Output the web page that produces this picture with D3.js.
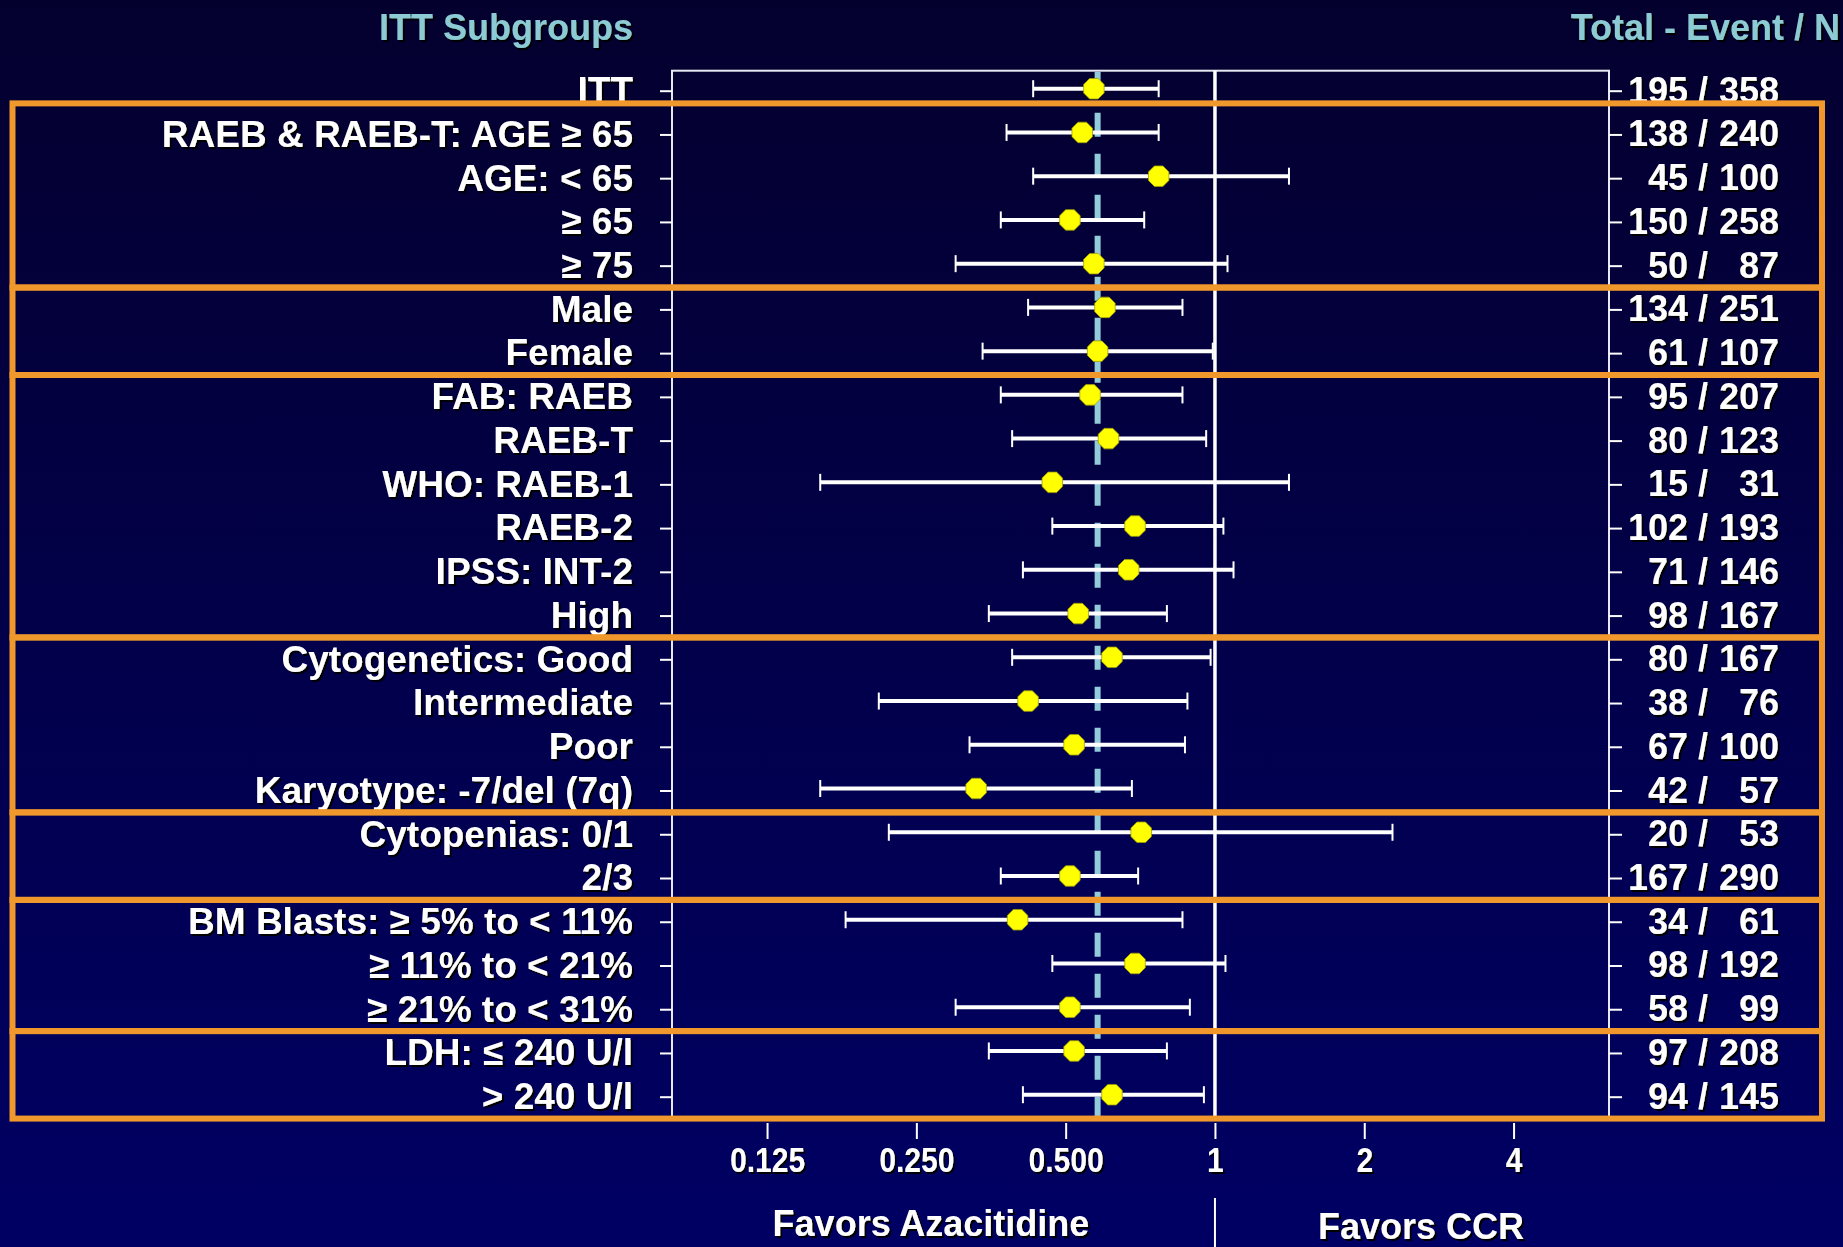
<!DOCTYPE html>
<html>
<head>
<meta charset="utf-8">
<script src="https://cdn.jsdelivr.net/npm/d3@7"></script>
<style>
  html, body { margin: 0; padding: 0; background: #020038; }
  svg { display: block; }
  text { font-family: "Liberation Sans", Arial, "DejaVu Sans", sans-serif; font-weight: bold; }
</style>
</head>
<body>
<svg id="chart" width="1843" height="1247"></svg>
<script>
// Subgroup labels, top to bottom
const rowLabels = [
  "ITT",
  "RAEB & RAEB-T: AGE \u2265 65",
  "AGE: < 65",
  "\u2265 65",
  "\u2265 75",
  "Male",
  "Female",
  "FAB: RAEB",
  "RAEB-T",
  "WHO: RAEB-1",
  "RAEB-2",
  "IPSS: INT-2",
  "High",
  "Cytogenetics: Good",
  "Intermediate",
  "Poor",
  "Karyotype: -7/del (7q)",
  "Cytopenias: 0/1",
  "2/3",
  "BM Blasts: \u2265 5% to < 11%",
  "\u2265 11% to < 21%",
  "\u2265 21% to < 31%",
  "LDH: \u2264 240 U/l",
  "> 240 U/l"
];

// Hazard ratios with 95% confidence limits
const hazardRatio = [0.57, 0.54, 0.77, 0.51, 0.57, 0.60, 0.58, 0.56, 0.61, 0.47, 0.69, 0.67,
                     0.53, 0.62, 0.42, 0.52, 0.33, 0.71, 0.51, 0.40, 0.69, 0.51, 0.52, 0.62];
const ciLower     = [0.43, 0.38, 0.43, 0.37, 0.30, 0.42, 0.34, 0.37, 0.39, 0.16, 0.47, 0.41,
                     0.35, 0.39, 0.21, 0.32, 0.16, 0.22, 0.37, 0.18, 0.47, 0.30, 0.35, 0.41];
const ciUpper     = [0.77, 0.77, 1.41, 0.72, 1.06, 0.86, 0.99, 0.86, 0.96, 1.41, 1.04, 1.09,
                     0.80, 0.98, 0.88, 0.87, 0.68, 2.28, 0.70, 0.86, 1.05, 0.89, 0.80, 0.95];

// Total events / patients per subgroup
const events = [195, 138, 45, 150, 50, 134, 61, 95, 80, 15, 102, 71,
                98, 80, 38, 67, 42, 20, 167, 34, 98, 58, 97, 94];
const totals = [358, 240, 100, 258, 87, 251, 107, 207, 123, 31, 193, 146,
                167, 167, 76, 100, 57, 53, 290, 61, 192, 99, 208, 145];

// Subgroup blocks (first and last row index)
const groupFirst = [1, 5, 7, 13, 17, 19, 22];
const groupLast  = [4, 6, 12, 16, 18, 21, 23];

// Overall hazard ratio reference line
const overallHR = 0.58;

// Log-2 axis ticks
const xTickValues = [0.125, 0.25, 0.5, 1, 2, 4];
const xTickLabels = ["0.125", "0.250", "0.500", "1", "2", "4"];

const W = 1843, H = 1247;
const svg = d3.select("#chart");
const defs = svg.append("defs");

const bg = defs.append("linearGradient").attr("id", "bg")
  .attr("x1", 0).attr("y1", 0).attr("x2", 0).attr("y2", 1);
bg.append("stop").attr("offset", "0%").attr("stop-color", "#04002e");
bg.append("stop").attr("offset", "100%").attr("stop-color", "#000064");

const shadow = defs.append("filter").attr("id", "shadow")
  .attr("x", "-5%").attr("y", "-20%").attr("width", "115%").attr("height", "150%");
shadow.append("feDropShadow").attr("dx", 2).attr("dy", 2)
  .attr("stdDeviation", 0.3).attr("flood-color", "#000").attr("flood-opacity", 1);

svg.append("rect").attr("width", W).attr("height", H).attr("fill", "url(#bg)");

// Plot area
const plotLeft = 672, plotRight = 1609, plotTop = 70.7, plotBottom = 1118;
const x = d3.scaleLog().base(2).domain([0.0804, 6.23]).range([plotLeft, plotRight]);
const y = d3.scalePoint().domain(d3.range(rowLabels.length)).range([90.7, 1096.7]);
const step = y.step();

// Headers
svg.append("text").attr("x", 633).attr("y", 40).attr("text-anchor", "end")
  .attr("font-size", 36).attr("fill", "#8ccbd3").attr("filter", "url(#shadow)")
  .text("ITT Subgroups");
svg.append("text").attr("x", 1840).attr("y", 40).attr("text-anchor", "end")
  .attr("font-size", 36).attr("fill", "#8ccbd3").attr("filter", "url(#shadow)")
  .text("Total - Event / N");

// Plot frame
svg.append("rect").attr("x", plotLeft).attr("y", plotTop)
  .attr("width", plotRight - plotLeft).attr("height", plotBottom - plotTop)
  .attr("fill", "none").attr("stroke", "#e8e8f2").attr("stroke-width", 2);

// No-effect line at HR = 1
svg.append("line").attr("x1", x(1)).attr("x2", x(1)).attr("y1", plotTop).attr("y2", plotBottom)
  .attr("stroke", "#ffffff").attr("stroke-width", 3.5);

// Overall HR reference (dashed)
svg.append("line").attr("x1", x(overallHR)).attr("x2", x(overallHR))
  .attr("y1", plotTop + 1).attr("y2", plotBottom)
  .attr("stroke", "#92cbd9").attr("stroke-width", 6)
  .attr("stroke-dasharray", "24,17");

// Left axis with subgroup labels
const leftAxis = svg.append("g").attr("transform", `translate(${plotLeft},0)`)
  .call(d3.axisLeft(y).tickSize(12).tickSizeOuter(0).tickPadding(27)
    .tickFormat(i => rowLabels[i]));
leftAxis.select(".domain").remove();
leftAxis.selectAll("line").attr("stroke", "#ffffff").attr("stroke-width", 2);
leftAxis.selectAll("text").attr("fill", "#ffffff").attr("font-size", 37)
  .attr("dy", "0.32em").attr("filter", "url(#shadow)");
leftAxis.attr("font-family", null);

// Right axis with event counts
const rightAxis = svg.append("g").attr("transform", `translate(${plotRight},0)`)
  .call(d3.axisRight(y).tickSize(13).tickSizeOuter(0).tickFormat(""));
rightAxis.select(".domain").remove();
rightAxis.selectAll("line").attr("stroke", "#ffffff").attr("stroke-width", 2);

const counts = svg.append("g").attr("font-size", 36).attr("fill", "#ffffff")
  .attr("filter", "url(#shadow)");
const countRows = counts.selectAll("g").data(d3.range(rowLabels.length)).join("g")
  .attr("transform", i => `translate(0,${y(i) + 12})`);
countRows.append("text").attr("x", 1688).attr("text-anchor", "end").text(i => events[i]);
countRows.append("text").attr("x", 1703).attr("text-anchor", "middle").text("/");
countRows.append("text").attr("x", 1779).attr("text-anchor", "end").text(i => totals[i]);

// Confidence intervals
const ci = svg.append("g").attr("stroke", "#ffffff");
const ciRows = ci.selectAll("g").data(d3.range(rowLabels.length)).join("g");
ciRows.append("line")
  .attr("x1", i => x(ciLower[i])).attr("x2", i => x(ciUpper[i]))
  .attr("y1", i => y(i) - 2).attr("y2", i => y(i) - 2)
  .attr("stroke-width", 4);
ciRows.append("line")
  .attr("x1", i => x(ciLower[i])).attr("x2", i => x(ciLower[i]))
  .attr("y1", i => y(i) - 10.5).attr("y2", i => y(i) + 6.5)
  .attr("stroke-width", 2);
ciRows.append("line")
  .attr("x1", i => x(ciUpper[i])).attr("x2", i => x(ciUpper[i]))
  .attr("y1", i => y(i) - 10.5).attr("y2", i => y(i) + 6.5)
  .attr("stroke-width", 2);

// Point estimates as octagons
const r = 11.1;
const octagon = d3.range(8).map(k => {
  const a = Math.PI / 8 + k * Math.PI / 4;
  return [r * Math.cos(a), r * Math.sin(a)];
});
const octPath = "M" + octagon.map(p => p.join(",")).join("L") + "Z";
svg.append("g").selectAll("path").data(d3.range(rowLabels.length)).join("path")
  .attr("d", octPath)
  .attr("transform", i => `translate(${x(hazardRatio[i])},${y(i) - 2})`)
  .attr("fill", "#ffff00").attr("stroke", "#a0a000").attr("stroke-width", 0.8);

// Subgroup blocks
const blockTop = g => y(groupFirst[g]) - step * (g === 0 ? 0.71 : 0.5);
const blockBottom = g => y(groupLast[g]) + step * 0.5;
svg.append("g").selectAll("rect").data(d3.range(groupFirst.length)).join("rect")
  .attr("x", 12.5)
  .attr("y", g => blockTop(g))
  .attr("width", 1822 - 12.5)
  .attr("height", g => blockBottom(g) - blockTop(g))
  .attr("fill", "none").attr("stroke", "#f0982c").attr("stroke-width", 6);

// Bottom log axis
const bottomAxis = svg.append("g").attr("transform", "translate(0,1123)")
  .call(d3.axisBottom(x).tickValues(xTickValues).tickSize(16).tickSizeOuter(0).tickPadding(8)
    .tickFormat((d, i) => xTickLabels[i]));
bottomAxis.select(".domain").remove();
bottomAxis.attr("font-family", null);
bottomAxis.selectAll("line").attr("stroke", "#ffffff").attr("stroke-width", 2);
bottomAxis.selectAll("text").attr("fill", "#ffffff").attr("font-size", 35)
  .attr("filter", "url(#shadow)")
  .attr("transform", "scale(0.86,1)");

// Direction captions
svg.append("line").attr("x1", x(1)).attr("x2", x(1)).attr("y1", 1198).attr("y2", H)
  .attr("stroke", "#ffffff").attr("stroke-width", 2);
svg.append("text").attr("x", 931).attr("y", 1236).attr("text-anchor", "middle")
  .attr("font-size", 36).attr("fill", "#ffffff").attr("filter", "url(#shadow)")
  .text("Favors Azacitidine");
svg.append("text").attr("x", 1421).attr("y", 1239).attr("text-anchor", "middle")
  .attr("font-size", 36).attr("fill", "#ffffff").attr("filter", "url(#shadow)")
  .text("Favors CCR");
</script>
</body>
</html>
